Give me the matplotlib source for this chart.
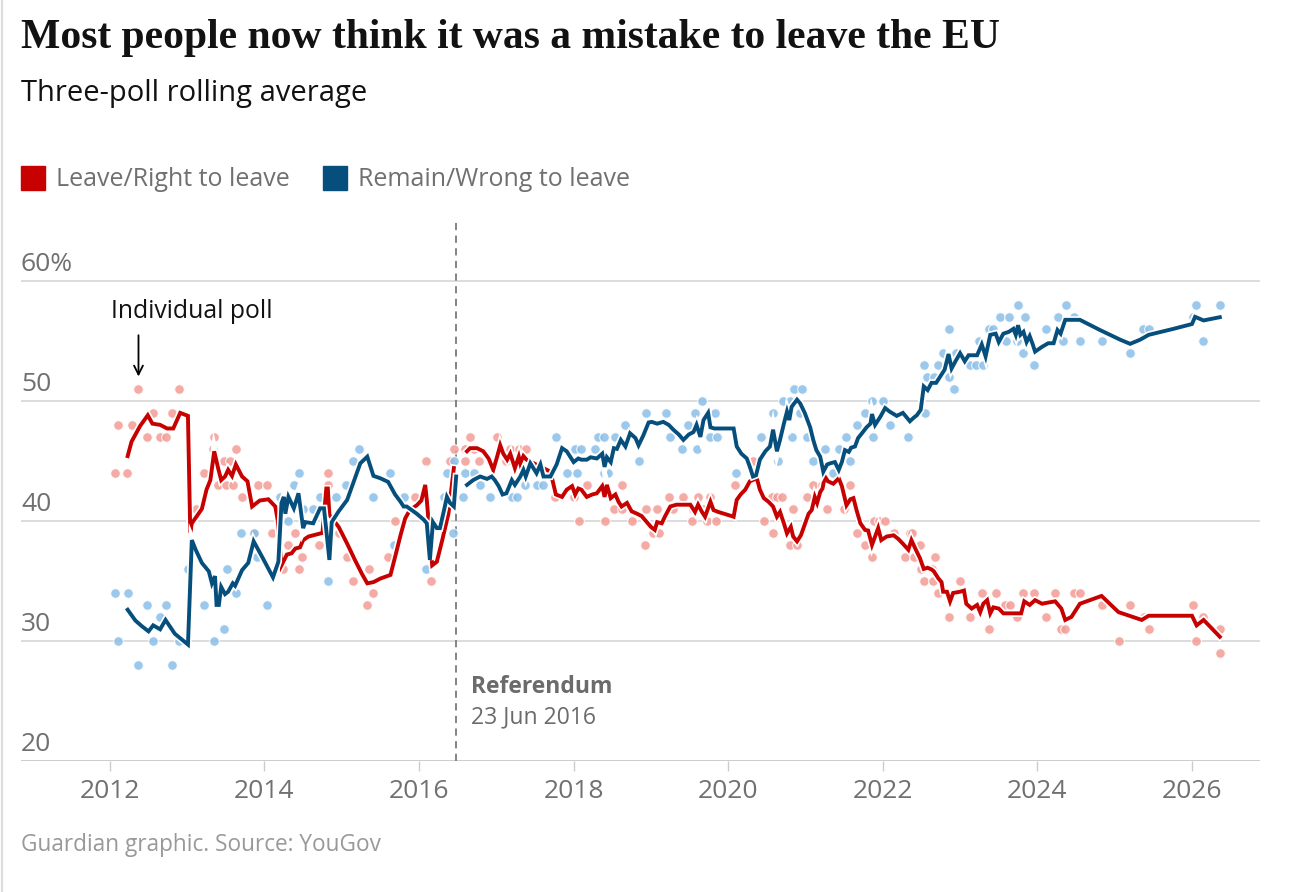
import numpy as np
import matplotlib
matplotlib.use('Agg')
import matplotlib.pyplot as plt
import matplotlib.patheffects as pe
from matplotlib.transforms import blended_transform_factory

# rolling average lines (decimal year, %); nan splits pre/post referendum
leave_yr = [2012.23, 2012.28, 2012.39, 2012.49, 2012.55, 2012.65, 2012.74, 2012.82, 2012.91, 2013.01,
            2013.04, 2013.06, 2013.19, 2013.25, 2013.30, 2013.35, 2013.40, 2013.44, 2013.49, 2013.53,
            2013.58, 2013.63, 2013.71, 2013.78, 2013.84, 2013.94, 2014.05, 2014.14, 2014.17, 2014.22,
            2014.29, 2014.35, 2014.40, 2014.46, 2014.50, 2014.57, 2014.63, 2014.75, 2014.80, 2014.82,
            2014.84, 2014.96, 2015.07, 2015.17, 2015.26, 2015.33, 2015.41, 2015.50, 2015.63, 2015.69,
            2015.76, 2015.82, 2015.88, 2015.97, 2016.03, 2016.08, 2016.10, 2016.17, 2016.23, 2016.30,
            2016.38, 2016.45, 2016.55,
            2016.62, 2016.66, 2016.75, 2016.83, 2016.90, 2016.96, 2017.01, 2017.05, 2017.09, 2017.14,
            2017.18, 2017.24, 2017.29, 2017.31, 2017.35, 2017.39, 2017.70, 2017.77, 2017.85, 2017.91,
            2017.98, 2018.02, 2018.06, 2018.10, 2018.17, 2018.24, 2018.30, 2018.37, 2018.40, 2018.43,
            2018.48, 2018.54, 2018.58, 2018.62, 2018.69, 2018.75, 2018.82, 2018.88, 2019.00, 2019.05,
            2019.08, 2019.14, 2019.18, 2019.25, 2019.33, 2019.40, 2019.51, 2019.57, 2019.61, 2019.66,
            2019.70, 2019.77, 2019.81, 2019.87, 2020.07, 2020.11, 2020.16, 2020.22, 2020.28, 2020.37,
            2020.41, 2020.46, 2020.52, 2020.58, 2020.63, 2020.67, 2020.72, 2020.76, 2020.81, 2020.84,
            2020.89, 2020.94, 2020.99, 2021.04, 2021.08, 2021.12, 2021.15, 2021.19, 2021.22, 2021.25,
            2021.29, 2021.36, 2021.43, 2021.47, 2021.53, 2021.58, 2021.62, 2021.66, 2021.71, 2021.77,
            2021.81, 2021.86, 2021.90, 2021.94, 2021.98, 2022.05, 2022.14, 2022.20, 2022.26, 2022.33,
            2022.37, 2022.42, 2022.48, 2022.53, 2022.58, 2022.63, 2022.66, 2022.72, 2022.76, 2022.78,
            2022.83, 2022.87, 2022.91, 2023.00, 2023.05, 2023.08, 2023.15, 2023.22, 2023.26, 2023.30,
            2023.35, 2023.39, 2023.43, 2023.50, 2023.56, 2023.73, 2023.79, 2023.83, 2023.90, 2023.97,
            2024.06, 2024.14, 2024.23, 2024.31, 2024.36, 2024.44, 2024.55, 2024.83, 2025.05, 2025.35,
            2025.44, 2026.00, 2026.06, 2026.15, 2026.36]
leave_avg = [45.4, 46.6, 47.9, 48.8, 48.1, 48.0, 47.7, 47.7, 49.0, 48.75,
             39.0, 39.8, 41.0, 42.6, 43.4, 45.8, 44.4, 43.4, 43.7, 44.25,
             43.75, 44.7, 43.7, 43.3, 41.2, 41.7, 41.8, 41.2, 40.1, 36.3,
             37.2, 37.3, 37.7, 37.8, 38.4, 38.7, 38.8, 39.0, 42.7, 42.7,
             40.5, 39.5, 38.1, 36.75, 35.6, 34.8, 34.9, 35.2, 35.5, 37.0,
             38.8, 40.2, 40.9, 41.3, 41.7, 43.0, 41.75, 36.3, 36.6, 38.4,
             40.6, 44.4, np.nan,
             45.8, 46.06, 46.06, 45.8, 45.2, 44.25, 45.35, 46.3, 45.6, 45.1,
             45.6, 44.4, 45.35, 44.8, 45.4, 45.1, 44.1, 42.2, 42.0, 42.6,
             42.9, 42.2, 42.7, 42.6, 42.0, 42.2, 42.3, 42.9, 42.0, 43.0,
             41.9, 42.2, 41.6, 41.2, 41.5, 40.8, 40.6, 40.4, 39.5, 39.25,
             39.9, 39.8, 40.35, 41.2, 41.35, 41.35, 41.35, 40.75, 41.35, 40.75,
             40.35, 41.6, 40.9, 40.75, 40.35, 41.75, 42.2, 42.6, 43.3, 43.55,
             42.6, 41.9, 41.6, 41.2, 40.35, 40.75, 39.8, 38.96, 39.5, 38.7,
             38.3, 38.8, 39.7, 40.6, 40.9, 42.0, 41.5, 42.4, 42.7, 43.7,
             43.3, 43.1, 43.55, 42.9, 41.3, 41.8, 41.9, 40.9, 39.8, 39.25,
             39.2, 38.0, 38.7, 39.4, 38.4, 38.7, 38.8, 38.5, 38.1, 37.6,
             38.4, 37.7, 36.9, 36.0, 36.1, 35.96, 35.8, 35.2, 34.9, 34.1,
             34.1, 33.3, 34.0, 34.1, 34.2, 33.1, 32.7, 33.0, 32.4, 33.1,
             33.4, 32.3, 32.8, 32.7, 32.3, 32.3, 32.3, 33.3, 33.0, 33.4,
             33.1, 33.2, 33.3, 32.7, 31.75, 32.0, 33.1, 33.75, 32.4, 31.75,
             32.1, 32.1, 31.3, 31.75, 30.35]

remain_yr = [2012.23, 2012.33, 2012.41, 2012.50, 2012.56, 2012.65, 2012.72, 2012.84, 2013.01, 2013.06,
             2013.11, 2013.19, 2013.28, 2013.32, 2013.36, 2013.38, 2013.41, 2013.44, 2013.49, 2013.53,
             2013.59, 2013.62, 2013.71, 2013.79, 2013.86, 2013.97, 2014.11, 2014.18, 2014.22, 2014.25,
             2014.27, 2014.31, 2014.38, 2014.44, 2014.50, 2014.53, 2014.63, 2014.72, 2014.77, 2014.84,
             2014.87, 2014.96, 2015.07, 2015.14, 2015.24, 2015.33, 2015.41, 2015.50, 2015.60, 2015.69,
             2015.76, 2015.80, 2015.84, 2015.97, 2016.06, 2016.10, 2016.14, 2016.18, 2016.23, 2016.27,
             2016.32, 2016.36, 2016.40, 2016.45, 2016.48, 2016.55,
             2016.62, 2016.70, 2016.79, 2016.88, 2016.94, 2016.98, 2017.03, 2017.08, 2017.13, 2017.20,
             2017.24, 2017.31, 2017.35, 2017.38, 2017.44, 2017.52, 2017.57, 2017.61, 2017.70, 2017.78,
             2017.85, 2017.91, 2018.00, 2018.06, 2018.10, 2018.17, 2018.22, 2018.30, 2018.37, 2018.40,
             2018.43, 2018.48, 2018.52, 2018.56, 2018.61, 2018.67, 2018.73, 2018.80, 2018.84, 2018.90,
             2018.97, 2019.01, 2019.08, 2019.16, 2019.23, 2019.29, 2019.36, 2019.42, 2019.49, 2019.55,
             2019.59, 2019.64, 2019.68, 2019.74, 2019.77, 2019.82, 2019.92, 2020.07, 2020.11, 2020.17,
             2020.24, 2020.28, 2020.32, 2020.36, 2020.41, 2020.48, 2020.54, 2020.58, 2020.63, 2020.67,
             2020.72, 2020.76, 2020.79, 2020.82, 2020.89, 2020.93, 2020.99, 2021.06, 2021.10, 2021.14,
             2021.19, 2021.23, 2021.28, 2021.32, 2021.38, 2021.43, 2021.47, 2021.51, 2021.56, 2021.59,
             2021.64, 2021.68, 2021.73, 2021.79, 2021.84, 2021.86, 2021.90, 2021.97, 2022.03, 2022.09,
             2022.18, 2022.26, 2022.35, 2022.40, 2022.44, 2022.49, 2022.53, 2022.58, 2022.63, 2022.69,
             2022.74, 2022.80, 2022.85, 2022.89, 2022.94, 2023.00, 2023.06, 2023.11, 2023.22, 2023.28,
             2023.33, 2023.39, 2023.46, 2023.50, 2023.56, 2023.63, 2023.69, 2023.72, 2023.75, 2023.78,
             2023.82, 2023.86, 2023.90, 2023.94, 2023.97, 2024.06, 2024.14, 2024.21, 2024.26, 2024.30,
             2024.36, 2024.55, 2024.81, 2025.07, 2025.20, 2025.33, 2025.44, 2025.76, 2026.00, 2026.04,
             2026.15, 2026.36]
remain_avg = [32.6, 31.7, 31.25, 30.8, 31.3, 30.97, 31.75, 30.6, 29.7, 38.4,
              37.6, 36.5, 35.8, 34.8, 35.4, 33.0, 33.0, 34.5, 33.9, 34.1,
              34.8, 34.6, 35.9, 36.5, 38.3, 37.0, 35.3, 36.6, 41.5, 42.0,
              40.6, 42.0, 41.05, 42.3, 39.4, 39.9, 39.8, 41.05, 41.05, 36.75,
              39.9, 40.8, 41.75, 43.0, 44.8, 45.35, 43.75, 43.55, 43.25, 42.2,
              41.6, 41.2, 41.2, 40.6, 40.1, 39.8, 36.75, 39.9, 39.4, 39.4,
              40.8, 42.0, 41.5, 41.2, 43.7, np.nan,
              43.0, 43.4, 43.7, 43.5, 43.7, 43.4, 42.9, 42.2, 42.3, 43.4,
              43.0, 43.7, 44.25, 43.7, 44.8, 43.97, 44.7, 43.7, 43.7, 44.7,
              46.06, 45.8, 44.9, 45.2, 45.1, 45.1, 45.3, 45.2, 45.6, 44.5,
              45.3, 44.9, 46.06, 46.0, 46.75, 46.2, 47.3, 46.9, 46.3, 47.1,
              48.2, 48.25, 48.1, 48.25, 48.0, 47.6, 47.2, 46.75, 47.2, 47.4,
              48.0, 47.0, 48.4, 49.0, 47.8, 47.7, 47.7, 47.7, 46.2, 45.6,
              45.2, 44.5, 43.7, 43.8, 45.1, 45.8, 46.2, 47.6, 45.8, 46.75,
              48.1, 49.1, 48.4, 49.5, 50.1, 49.8, 49.0, 47.8, 46.75, 45.9,
              45.35, 44.1, 44.7, 44.8, 44.9, 44.25, 44.9, 45.9, 45.75, 46.1,
              46.2, 46.9, 47.3, 47.8, 48.1, 48.9, 48.0, 48.7, 49.4, 49.1,
              48.75, 49.0, 48.3, 48.6, 48.8, 49.25, 51.2, 50.9, 51.5, 51.5,
              52.0, 52.6, 53.9, 52.7, 53.3, 53.97, 53.3, 53.8, 53.8, 54.7,
              53.7, 55.5, 55.6, 54.9, 55.6, 55.75, 56.0, 55.5, 56.3, 55.5,
              55.75, 54.9, 55.4, 54.7, 54.1, 54.5, 54.8, 54.8, 55.9, 55.6,
              56.75, 56.75, 55.9, 55.1, 54.75, 55.1, 55.5, 56.0, 56.4, 57.0,
              56.7, 56.97]

# individual polls
leave_poll_yr = [2012.06, 2012.11, 2012.22, 2012.28, 2012.37, 2012.48, 2012.56, 2012.65, 2012.73, 2012.80,
                 2012.90, 2013.12, 2013.22, 2013.34, 2013.35, 2013.40, 2013.48, 2013.50, 2013.56, 2013.59,
                 2013.63, 2013.71, 2013.86, 2013.91, 2014.03, 2014.10, 2014.24, 2014.30, 2014.40, 2014.45,
                 2014.48, 2014.71, 2014.82, 2014.82, 2014.96, 2015.07, 2015.14, 2015.33, 2015.35, 2015.41,
                 2015.60, 2015.69, 2015.95, 2016.09, 2016.16, 2016.40, 2016.45,
                 2016.60, 2016.60, 2016.66, 2016.71, 2016.77, 2017.01, 2017.12, 2017.18, 2017.29, 2017.39,
                 2017.76, 2018.00, 2018.07, 2018.17, 2018.39, 2018.40, 2018.52, 2018.62, 2018.62, 2018.75,
                 2018.92, 2018.93, 2019.03, 2019.08, 2019.10, 2019.23, 2019.29, 2019.42, 2019.53, 2019.55,
                 2019.61, 2019.68, 2019.72, 2019.77, 2019.84, 2020.09, 2020.32, 2020.46, 2020.56, 2020.58,
                 2020.63, 2020.69, 2020.80, 2020.84, 2020.89, 2021.02, 2021.10, 2021.21, 2021.28, 2021.50,
                 2021.58, 2021.66, 2021.77, 2021.86, 2021.88, 2021.95, 2022.03, 2022.14, 2022.29, 2022.35,
                 2022.38, 2022.40, 2022.48, 2022.49, 2022.53, 2022.63, 2022.65, 2022.68, 2022.72, 2022.85,
                 2023.00, 2023.13, 2023.28, 2023.37, 2023.47, 2023.58, 2023.64, 2023.73, 2023.81, 2023.96,
                 2024.11, 2024.23, 2024.31, 2024.36, 2024.47, 2024.55, 2024.84, 2025.05, 2025.20, 2025.38,
                 2025.45, 2026.01, 2026.05, 2026.14, 2026.36, 2026.36]
leave_poll = [44, 48, 44, 48, 51, 47, 49, 47, 47, 49,
              51, 41, 44, 46, 47, 43, 45, 43, 45, 43,
              46, 42, 39, 43, 43, 39, 36, 38, 39, 36,
              37, 38, 44, 43, 39, 37, 35, 33, 36, 34,
              37, 40, 42, 45, 35, 45, 46,
              46, 45, 47, 46, 45, 47, 45, 46, 46, 46,
              42, 42, 40, 43, 43, 40, 41, 43, 41, 40,
              38, 41, 39, 41, 39, 42, 41, 42, 40, 41,
              42, 41, 40, 42, 40, 43, 45, 40, 42, 39,
              42, 42, 38, 41, 38, 42, 43, 43, 41, 41,
              43, 39, 38, 37, 40, 40, 40, 39, 37, 39,
              39, 37, 38, 36, 35, 36, 35, 37, 34, 32,
              35, 32, 34, 31, 34, 33, 33, 32, 34, 34,
              32, 34, 31, 31, 34, 34, 33, 30, 33, 32,
              31, 33, 30, 32, 31, 29]

remain_poll_yr = [2012.06, 2012.11, 2012.23, 2012.37, 2012.48, 2012.56, 2012.65, 2012.73, 2012.80, 2012.90,
                  2013.01, 2013.22, 2013.35, 2013.47, 2013.51, 2013.63, 2013.70, 2013.86, 2013.90, 2014.03,
                  2014.20, 2014.30, 2014.38, 2014.45, 2014.50, 2014.63, 2014.72, 2014.82, 2014.92, 2015.05,
                  2015.14, 2015.22, 2015.40, 2015.63, 2015.67, 2015.80, 2016.09, 2016.32, 2016.36, 2016.44,
                  2016.45,
                  2016.57, 2016.60, 2016.71, 2016.79, 2016.92, 2017.20, 2017.27, 2017.37, 2017.52, 2017.61,
                  2017.77, 2017.91, 2018.02, 2018.04, 2018.09, 2018.28, 2018.32, 2018.39, 2018.39, 2018.45,
                  2018.54, 2018.67, 2018.85, 2018.93, 2019.19, 2019.25, 2019.40, 2019.48, 2019.57, 2019.59,
                  2019.66, 2019.77, 2019.83, 2019.85, 2020.10, 2020.43, 2020.58, 2020.65, 2020.71, 2020.80,
                  2020.82, 2020.85, 2020.93, 2020.95, 2021.02, 2021.10, 2021.25, 2021.36, 2021.43, 2021.53,
                  2021.58, 2021.66, 2021.77, 2021.86, 2021.87, 2022.00, 2022.09, 2022.33, 2022.53, 2022.55,
                  2022.57, 2022.66, 2022.72, 2022.78, 2022.85, 2022.85, 2022.92, 2022.95, 2023.13, 2023.21,
                  2023.24, 2023.30, 2023.37, 2023.43, 2023.52, 2023.60, 2023.63, 2023.73, 2023.75, 2023.82,
                  2023.84, 2023.96, 2024.11, 2024.27, 2024.33, 2024.37, 2024.47, 2024.55, 2024.84, 2025.20,
                  2025.37, 2025.45, 2026.01, 2026.05, 2026.14, 2026.36]
remain_poll = [34, 30, 34, 28, 33, 30, 32, 33, 28, 30,
               36, 33, 30, 31, 36, 34, 39, 39, 37, 33,
               42, 40, 43, 44, 41, 41, 42, 35, 42, 43,
               45, 46, 42, 44, 38, 42, 36, 42, 44, 39,
               45,
               42, 44, 44, 43, 42, 42, 42, 43, 43, 43,
               47, 44, 46, 44, 46, 46, 47, 47, 44, 44,
               47, 48, 45, 49, 49, 47, 46, 48, 49, 46,
               50, 47, 49, 47, 44, 47, 49, 45, 50, 50,
               47, 51, 49, 51, 47, 45, 46, 44, 46, 47,
               45, 48, 49, 50, 47, 50, 48, 47, 53, 49,
               52, 52, 53, 54, 56, 52, 51, 54, 53, 53,
               55, 53, 56, 56, 57, 55, 57, 55, 58, 54,
               57, 53, 56, 57, 55, 58, 57, 55, 55, 54,
               56, 56, 57, 58, 55, 58]

year_ticks = [2012, 2014, 2016, 2018, 2020, 2022, 2024, 2026]
pct_ticks = [20, 30, 40, 50, 60]
referendum = 2016.476

RED = '#c70000'
BLUE = '#064f7c'
RED_DOT = '#f39d97'
BLUE_DOT = '#8abfe8'
GREY = '#707070'

plt.rcParams['font.family'] = ['Open Sans', 'DejaVu Sans']

W, H = 1298, 892
fig = plt.figure(figsize=(W / 100, H / 100), dpi=100)
fig.patch.set_facecolor('white')


def fx(px):
    return px / W


def fy(py):
    return 1 - py / H


ax = fig.add_axes([fx(21), fy(761), fx(1260) - fx(21), fy(222) - fy(761)])
ax.set_xlim(2010.85, 2026.88)
ax.set_ylim(20, 64.9)
for s in ax.spines.values():
    s.set_visible(False)

for v in pct_ticks:
    ax.axhline(v, color='#d9d9d9' if v > 20 else '#c8c8c8', lw=1.3, zorder=0)

ax.set_yticks([])
ax.set_xticks(year_ticks)
ax.set_xticklabels([str(y) for y in year_ticks], fontsize=19, color=GREY)
ax.tick_params(axis='x', length=7, width=1, color='#cccccc', pad=6)

# y labels sit above their gridlines on the left
tr = blended_transform_factory(ax.transAxes, ax.transData)
for v in pct_ticks:
    lab = f'{v}%' if v == 60 else str(v)
    ax.annotate(lab, (0, v), xycoords=tr, xytext=(0, 7), textcoords='offset points',
                fontsize=19, color=GREY, ha='left', va='baseline')

# referendum marker
ax.plot([referendum, referendum], [20, 64.9], color='#7a7a7a', lw=1.3,
        linestyle=(0, (4, 3)), zorder=1)
ax.text(referendum + 0.2, 25.7, 'Referendum', fontsize=16.5, fontweight='bold', color='#6b6b6b')
ax.text(referendum + 0.2, 23.1, '23 Jun 2016', fontsize=16.5, color='#6b6b6b')

# polls
ax.scatter(leave_poll_yr, leave_poll, s=48, color=RED_DOT, edgecolor='white', linewidth=0.8,
           alpha=0.85, zorder=2)
ax.scatter(remain_poll_yr, remain_poll, s=48, color=BLUE_DOT, edgecolor='white', linewidth=0.8,
           alpha=0.85, zorder=2)

halo = [pe.Stroke(linewidth=5.2, foreground='white'), pe.Normal()]
ax.plot(leave_yr, leave_avg, color=RED, lw=2.8, solid_joinstyle='miter', path_effects=halo, zorder=3)
ax.plot(remain_yr, remain_avg, color=BLUE, lw=2.8, solid_joinstyle='miter', path_effects=halo, zorder=4)

# annotation
ax.annotate('', xy=(2012.37, 51.8), xytext=(2012.37, 55.7),
            arrowprops=dict(arrowstyle='->', color='black', lw=1.3, mutation_scale=16))
ax.text(2012.02, 56.9, 'Individual poll', fontsize=17.8, color='#121212')

# headings and legend
fig.text(fx(21), fy(48), 'Most people now think it was a mistake to leave the EU',
         fontsize=30, fontweight='bold', family=['Liberation Serif'], color='#121212')
fig.text(fx(21), fy(101), 'Three-poll rolling average', fontsize=21, color='#121212')

fig.patches.append(plt.Rectangle((fx(21), fy(190)), fx(24), 24 / H, transform=fig.transFigure,
                                 color=RED, figure=fig))
fig.text(fx(56), fy(186), 'Leave/Right to leave', fontsize=18, color=GREY)
fig.patches.append(plt.Rectangle((fx(323), fy(190)), fx(24), 24 / H, transform=fig.transFigure,
                                 color=BLUE, figure=fig))
fig.text(fx(358), fy(186), 'Remain/Wrong to leave', fontsize=18, color=GREY)

fig.text(fx(21), fy(851), 'Guardian graphic. Source: YouGov', fontsize=16.3, color='#999999')

# thin border down the left edge
fig.add_artist(plt.Line2D([fx(2), fx(2)], [0, 1], color='#dddddd', lw=1.5, transform=fig.transFigure))

fig.savefig('out.png', dpi=100)
